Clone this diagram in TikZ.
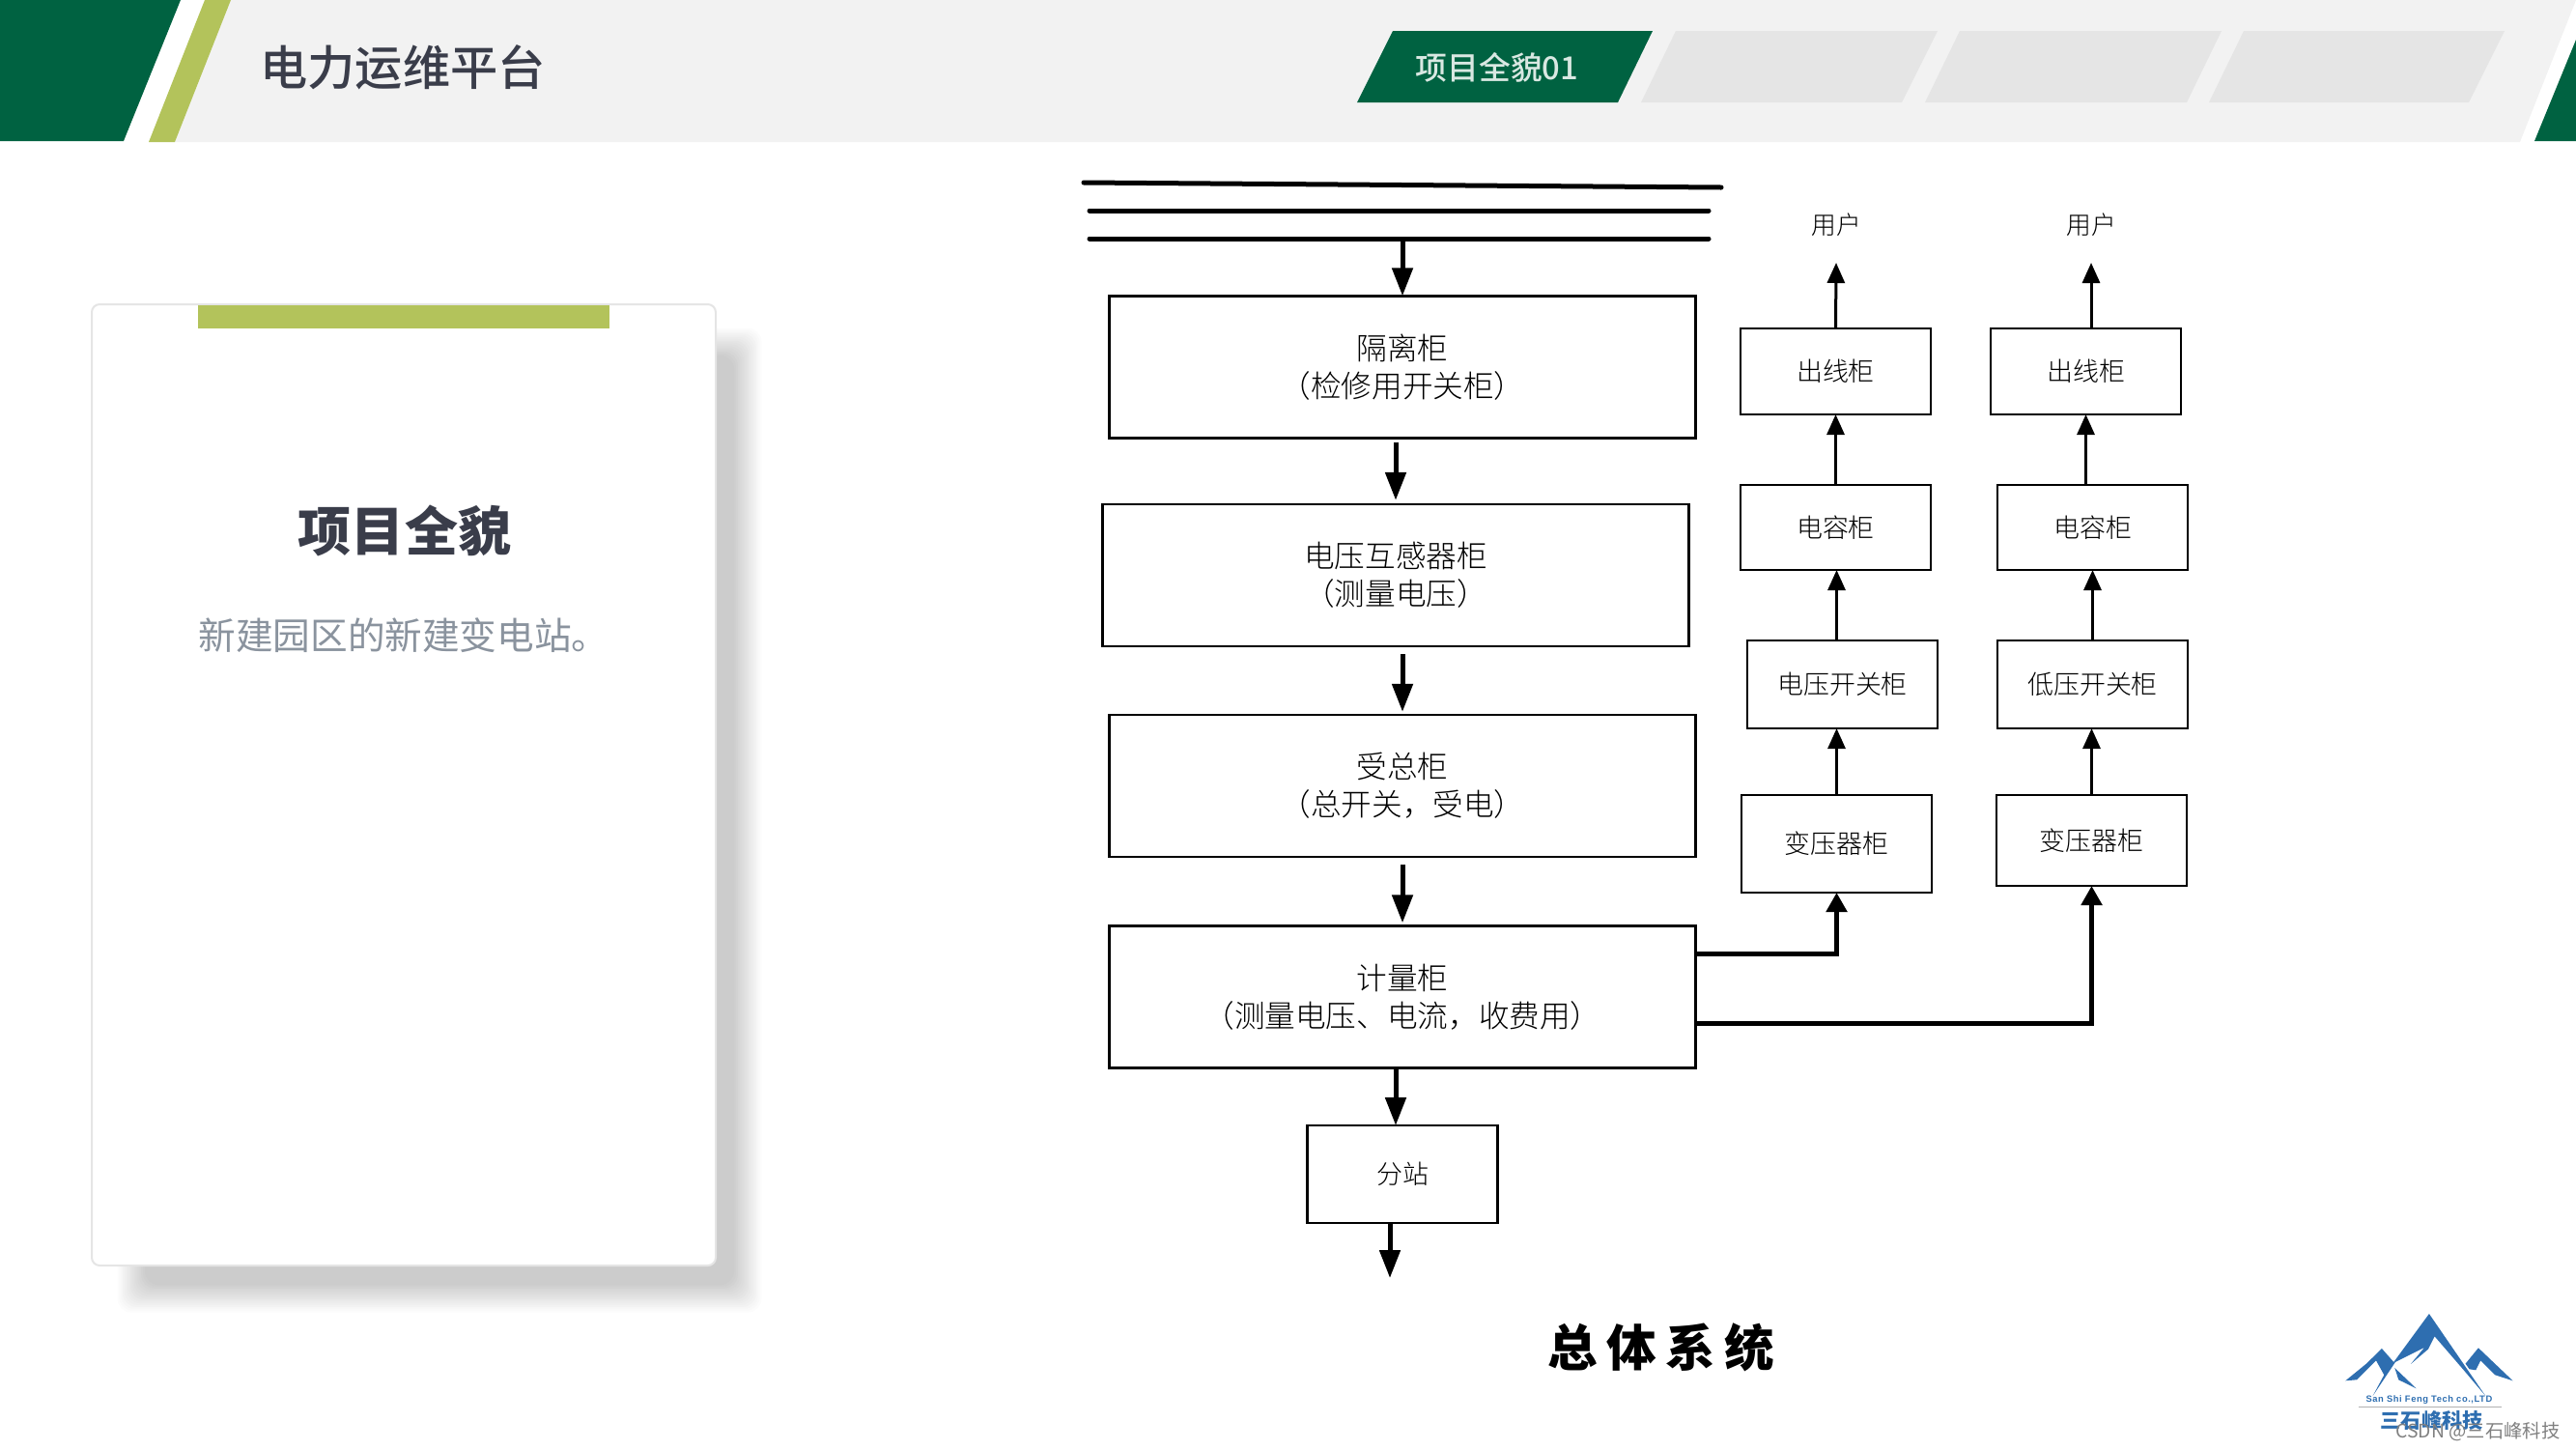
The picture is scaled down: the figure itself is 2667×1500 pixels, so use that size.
\documentclass[tikz,border=0pt]{standalone}
\usepackage{fontspec}
\setmainfont{Noto Sans CJK SC}
\newfontfamily\boxfont{Noto Sans CJK SC Light}
\newfontfamily\headfont{Noto Sans CJK SC Medium}
\newfontfamily\latinfont[LetterSpace=6]{Liberation Sans}
\usetikzlibrary{positioning,arrows.meta}
\definecolor{deepgreen}{HTML}{006241}
\definecolor{limegreen}{HTML}{B3C35B}
\definecolor{headgray}{HTML}{F2F2F2}
\definecolor{tabgray}{HTML}{E5E5E5}
\definecolor{inkdark}{HTML}{3A3D4A}
\definecolor{inkgray}{HTML}{8A939E}
\definecolor{logoblue}{HTML}{2E6EB0}
\tikzset{
  cabinet/.style={draw=black, fill=white, line width=0.075cm, inner sep=0pt, outer sep=0pt, align=center, font=\boxfont\fontsize{27}{33}\selectfont},
  bigcabinet/.style={cabinet, minimum width=18.2cm, minimum height=4.42cm},
  smallcabinet/.style={cabinet, minimum width=5.92cm, font=\boxfont\fontsize{23}{28}\selectfont},
  busline/.style={line width=0.15cm, line cap=round},
  feedarrow/.style={line width=0.15cm, -{Triangle[length=0.87cm,width=0.63cm]}},
  riserarrow/.style={line width=0.09cm, -{Triangle[length=0.63cm,width=0.54cm]}},
  elbowarrow/.style={line width=0.15cm, -{Triangle[length=0.6cm,width=0.63cm]}},
}

\begin{document}
\begin{tikzpicture}[x=0.03cm,y=-0.03cm]
\useasboundingbox (0,0) rectangle (2667,1500);

% header
\fill[headgray] (239,0) -- (2667,0) -- (2609,147) -- (181,147) -- cycle;
\fill[deepgreen] (0,0) -- (187,0) -- (128,146) -- (0,146) -- cycle;
\fill[limegreen] (212,0) -- (239,0) -- (181,147) -- (154,147) -- cycle;
\fill[deepgreen] (2667,41) -- (2667,146) -- (2624,146) -- cycle;
\fill[deepgreen] (1442,32) -- (1711,32) -- (1675,106) -- (1405,106) -- cycle;
\fill[tabgray] (1735,32) -- (2006,32) -- (1969,106) -- (1699,106) -- cycle;
\fill[tabgray] (2029,32) -- (2300,32) -- (2264,106) -- (1993,106) -- cycle;
\fill[tabgray] (2323,32) -- (2593,32) -- (2556,106) -- (2287,106) -- cycle;
\node[text=inkdark, font=\headfont\fontsize{42}{48}\selectfont] (pagetitle) at (417,70) {电力运维平台};
\node[text=white!85!deepgreen, font=\headfont\fontsize{28}{34}\selectfont] (tabtitle) at (1550,70) {项目全貌01};

% card
\foreach \blur [evaluate=\blur as \shade using \blur*1.25] in {1,...,16}
  \fill[black!\shade, rounded corners=12pt] ({150-(16-\blur)*1.9},{368-(16-\blur)*1.9}) rectangle ({760+(16-\blur)*1.9},{1330+(16-\blur)*1.9});
\draw[draw=black!10, fill=white, line width=0.06cm, rounded corners=7pt] (95,315) rectangle (741,1310);
\fill[limegreen] (205,316) rectangle (631,340);
\node[text=inkdark, font=\bfseries\fontsize{47}{56}\selectfont] (cardtitle) at (419,549) {项目全貌};
\node[text=inkgray, font=\fontsize{33}{38}\selectfont] (cardtext) at (418,658) {新建园区的新建变电站。};

% bus
\coordinate (busa) at (1122,189);
\coordinate (busb) at (1782,194);
\coordinate (busc) at (1128,218);
\coordinate (busd) at (1769,218);
\coordinate (buse) at (1128,247);
\coordinate (busf) at (1769,247);
\draw[busline] (busa) -- (busb);
\draw[busline] (busc) -- (busd);
\draw[busline] (buse) -- (busf);

% main column
\node[bigcabinet] (isolator) at (1452,380) {隔离柜\\（检修用开关柜）};
\node[bigcabinet] (voltage) at (1445,595.5) {电压互感器柜\\（测量电压）};
\node[bigcabinet] (incoming) at (1452,813.5) {受总柜\\（总开关，受电）};
\node[bigcabinet] (metering) at (1452,1032) {计量柜\\（测量电压、电流，收费用）};
\node[smallcabinet, minimum height=3.03cm] (substation) at (1452,1215.5) {分站};
\coordinate (subout) at (1439,1323);

% outgoing columns
\node[smallcabinet, minimum height=2.67cm] (outleta) at (1900.5,384.5) {出线柜};
\node[smallcabinet, minimum height=2.64cm] (capa) at (1900.5,546) {电容柜};
\node[smallcabinet, minimum height=2.73cm] (switcha) at (1907.5,708.5) {电压开关柜};
\node[smallcabinet, minimum height=3.03cm] (transa) at (1901.5,873.5) {变压器柜};
\node[smallcabinet, minimum height=2.67cm] (outletb) at (2159.5,384.5) {出线柜};
\node[smallcabinet, minimum height=2.64cm] (capb) at (2166.5,546) {电容柜};
\node[smallcabinet, minimum height=2.73cm] (switchb) at (2166.5,708.5) {低压开关柜};
\node[smallcabinet, minimum height=2.82cm] (transb) at (2165.5,870) {变压器柜};
\node[font=\boxfont\fontsize{22}{26}\selectfont, minimum height=2.34cm, inner sep=0pt, outer sep=0pt] (usera) at (1901,233) {用户};
\node[font=\boxfont\fontsize{22}{26}\selectfont, minimum height=2.34cm, inner sep=0pt, outer sep=0pt] (userb) at (2165,233) {用户};

% connectors
\draw[feedarrow] (isolator.north |- buse) -- (isolator.north);
\draw[feedarrow, shorten <=0.12cm, shorten >=0.12cm] (voltage.north |- isolator.south) -- (voltage.north);
\draw[feedarrow, shorten <=0.24cm, shorten >=0.09cm] (incoming.north |- voltage.south) -- (incoming.north);
\draw[feedarrow, shorten <=0.24cm, shorten >=0.09cm] (metering.north |- incoming.south) -- (metering.north);
\draw[feedarrow] (substation.north -| voltage.south) ++(0,-59) -- (substation.north -| voltage.south);
\draw[feedarrow] (subout |- substation.south) -- (subout);
\draw[riserarrow] (transa.north) -- (transa.north |- switcha.south);
\draw[riserarrow] (transa.north |- switcha.north) -- (transa.north |- capa.south);
\draw[riserarrow] (capa.north) -- (outleta.south);
\draw[riserarrow] (outleta.north) -- (usera.south);
\draw[riserarrow] (transb.north) -- (transb.north |- switchb.south);
\draw[riserarrow] (switchb.north) -- (capb.south);
\draw[riserarrow] (outletb.south |- capb.north) -- (outletb.south);
\draw[riserarrow] (userb.south |- outletb.north) -- (userb.south);
\draw[elbowarrow] (metering.east |- 0,987) -- (transa.south |- 0,987) -- (transa.south);
\draw[elbowarrow] (metering.east |- 0,1059) -- (transb.south |- 0,1059) -- (transb.south);

\node[font=\bfseries\fontsize{44}{52}\selectfont] (systemtitle) at (1720,1395) {总\hspace{8pt}体\hspace{8pt}系\hspace{8pt}统};

% logo
\begin{scope}[shift={(2360,1330)}, x=0.01cm, y=-0.01cm]
\fill[logoblue] (465,90) -- (640,345) -- (570,262) -- (482,160) -- (462,200) -- (408,246) -- (450,195) -- (360,240) -- (290,345) -- (325,280) -- (300,235) -- (240,295) -- (205,298) -- (270,245) -- (318,198) -- (355,240) -- cycle;
\fill[logoblue] (358,258) -- (425,322) -- (370,295) -- cycle;
\fill[logoblue] (618,196) -- (725,298) -- (670,280) -- (625,235) -- (610,265) -- (590,262) -- (578,245) -- cycle;
\draw[black!30, line width=0.02cm] (245,380) -- (690,380);
\node[text=logoblue, font=\latinfont\bfseries\fontsize{8}{10}\selectfont] (logoen) at (465,358) {San Shi Feng Tech co.,LTD};
\node[text=logoblue, font=\bfseries\fontsize{18}{22}\selectfont] (logocn) at (473,422) {三石峰科技};
\node[text=black!50, font=\fontsize{16.5}{20}\selectfont] (watermark) at (617,456) {CSDN @三石峰科技};
\end{scope}
\end{tikzpicture}
\end{document}
